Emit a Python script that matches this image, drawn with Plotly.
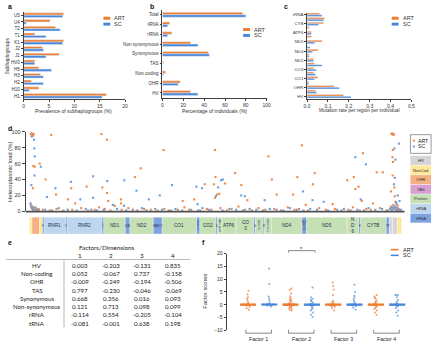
import plotly.graph_objects as go
import numpy as np

# ---------------- DATA ----------------
# Panel a
a_cats = ["U5", "U4", "T2", "T1", "K1", "J2", "J1", "HV0", "H5", "H3", "H2", "H10", "H1"]
a_art = [7.9, 5.2, 6.3, 2.2, 7.9, 3.7, 7.0, 2.2, 3.0, 3.3, 1.5, 3.0, 16.3]
a_sc = [7.7, 0.5, 7.2, 4.4, 7.7, 3.9, 4.4, 2.2, 5.5, 3.9, 3.9, 1.1, 15.5]
a_ticks = [0, 5, 10, 15, 20]

# Panel b
b_cats = ["Total", "tRNA", "rRNA", "Non synonymous", "Synonymous", "TAS", "Non coding", "OHR", "HV"]
b_art = [77, 7, 9, 27, 44, 1, 3, 17, 27]
b_sc = [80, 5, 5, 34, 45, 0, 1, 15, 34]
b_ticks = [0, 20, 40, 60, 80, 100]

# Panel c
c_cats = ["tRNA", "rRNA", "CYB", "ATP8", "ATP6", "ND6", "ND5", "ND4L", "ND4", "ND3", "ND2",
          "ND1", "CO3", "CO2", "CO1", "TAS", "OHR", "Non coding", "HV"]
c_art = [0.060, 0.083, 0.079, 0.010, 0.020, 0.020, 0.072, 0.000, 0.052, 0.010, 0.031,
         0.036, 0.031, 0.030, 0.052, 0.008, 0.130, 0.041, 0.175]
c_sc = [0.072, 0.080, 0.055, 0.000, 0.020, 0.000, 0.036, 0.014, 0.025, 0.010, 0.031,
        0.072, 0.044, 0.040, 0.036, 0.008, 0.154, 0.046, 0.210]
c_ticks = [0, 0.1, 0.2, 0.3, 0.4, 0.5]

# Panel d: heteroplasmic variants (position, load %)
d_art_pos = [60, 100, 130, 150, 185, 964, 3197, 3440, 5970, 8260, 16120, 16150, 16200, 16230, 16180, 16160, 16190,
             170, 230, 452, 715, 150, 1180, 1853, 2540, 3240, 4690, 4950, 7800, 8210, 8280, 8700, 9155, 9430,
             10640, 10790, 11010, 11740, 11930, 12130, 12620, 12700, 14150, 14440, 14850, 14510, 14650, 15460,
             15730, 16170, 16250, 16260,
             1710, 2030, 3450, 3500, 4070, 4070, 6820, 7330, 8260, 8350, 8450, 9700, 14800, 12300, 13500, 15300,
             16100, 16300,
             50, 80, 110, 140, 160, 200, 250, 300, 350, 420, 600, 900, 1200, 1500, 1900, 2300, 2600, 2900, 3100,
             3350, 3600, 3800, 4100, 4400, 4800, 5100, 5400, 5700, 6000, 6300, 6600, 6900, 7100, 7600, 7900,
             8100, 8500, 8800, 9000, 9300, 9600, 9900, 10200, 10500, 10900, 11200, 11500, 11800, 12000, 12400,
             12900, 13200, 13600, 13900, 14200, 14400, 14700, 15000, 15200, 15600, 15900, 16050, 16100, 16150,
             16200, 16250, 16300, 16350, 16400, 16450, 16500]
d_art_val = [97, 98, 96, 95, 97, 96, 97, 90, 77, 77, 97, 98, 96, 97, 77, 68, 62,
             57, 56, 60, 40, 29, 21, 29, 31, 30, 43, 54, 34, 34, 43, 35, 48, 33,
             69, 40, 21, 21, 43, 83, 34, 48, 39, 43, 73, 28, 31, 49,
             49, 45, 30, 19,
             15, 10, 23, 13, 10, 15, 13, 15, 17, 21, 22, 14, 13, 8, 9, 10,
             25, 12,
             8, 5, 3, 6, 2, 4, 1, 3, 2, 1, 2, 1, 3, 1, 2, 4, 1, 2, 5,
             3, 1, 7, 2, 4, 1, 3, 2, 1, 3, 1, 2, 5, 2, 1, 3,
             2, 4, 1, 3, 6, 2, 1, 4, 2, 3, 1, 5, 2, 3, 1,
             4, 2, 3, 1, 2, 5, 1, 3, 2, 4, 1, 3, 6, 2,
             8, 4, 5, 2, 7, 3, 1]
d_sc_pos = [90, 200, 210, 230, 500, 220, 80, 1153, 770, 1840, 2260, 2830, 2830, 3460, 3710, 4220, 4760, 4200,
            5310, 5800, 6340, 7430, 7680, 7480, 8530, 8610, 8300, 9430, 9590, 10470, 12180, 12600, 13100,
            14510, 14980, 14750, 16300, 16250, 16450, 16270, 16230, 16330, 16340, 16480, 8400, 16400,
            40, 70, 120, 180, 260, 320, 400, 700, 1000, 1300, 1700, 2100, 2500, 2750, 3000, 3300, 3900, 4300,
            4600, 5000, 5200, 5600, 5900, 6200, 6500, 6800, 7200, 7500, 7700, 8000, 8600, 8900, 9200, 9500,
            9800, 10100, 10400, 10700, 11000, 11300, 11600, 11900, 12200, 12500, 12800, 13300, 13700, 14000,
            14300, 14600, 14900, 15100, 15400, 15700, 15950, 16080, 16130, 16180, 16220, 16280, 16320, 16380,
            16420, 16550]
d_sc_val = [94, 90, 79, 69, 56, 45, 33, 29, 18, 37, 15, 44, 17, 38, 8, 39, 26, 7,
            15, 20, 33, 31, 29, 9, 39, 40, 19, 20, 19, 14, 25, 14, 12,
            68, 59, 15, 65, 79, 85, 42, 34, 11, 9, 13, 30, 20,
            10, 6, 4, 2, 5, 1, 3, 2, 1, 4, 2, 1, 3, 2, 1, 2, 3, 1,
            2, 4, 1, 3, 2, 1, 3, 1, 2, 1, 4, 2, 1, 3, 2, 1,
            3, 2, 1, 3, 2, 1, 4, 2, 1, 3, 2, 1, 2, 3,
            1, 2, 1, 4, 2, 3, 1, 4, 2, 5, 3, 6, 2, 4,
            1, 2]
d_ticks = [0, 20, 40, 60, 80, 100]

# mtDNA gene map (start, end, label, type)
g_start = [1, 110, 441, 577, 648, 1602, 1671, 3230, 3307, 4263, 4470, 5512, 5904, 7446, 7586, 8295, 8366,
           8573, 9207, 9991, 10059, 10405, 10470, 10767, 12138, 12337, 14149, 14674, 14747, 15888, 16024,
           16157, 16172, 16383]
g_end = [110, 441, 577, 648, 1602, 1671, 3230, 3307, 4263, 4470, 5512, 5904, 7446, 7586, 8295, 8366, 8573,
         9207, 9991, 10059, 10405, 10470, 10767, 12138, 12337, 14149, 14674, 14747, 15888, 16024, 16157,
         16172, 16383, 16569]
g_label = ["", "", "", "F", "RNR1", "V", "RNR2", "L<br>1", "ND1", "IQM", "ND2", "WANCY", "CO1", "S<br>D<br>1",
           "CO2", "K", "A<br>T<br>P<br>8", "ATP6", "CO<br>3", "G", "N<br>D<br>3", "R", "N<br>D<br>4<br>L", "ND4",
           "H S<br>S2<br>L2", "ND5", "N<br>D<br>6", "E", "CYTB", "TP", "", "", "", ""]
g_type = ["NonCod", "OHR", "NonCod", "tRNA", "rRNA", "tRNA", "rRNA", "tRNA", "Protein", "tRNA", "Protein",
          "tRNA", "Protein", "tRNA", "Protein", "tRNA", "Protein", "Protein", "Protein", "tRNA", "Protein",
          "tRNA", "Protein", "Protein", "tRNA", "Protein", "Protein", "tRNA", "Protein", "tRNA", "HV", "TAS",
          "HV", "NonCod"]
region_names = ["HV", "NonCod", "OHR", "TAS", "Protein", "rRNA", "tRNA"]

# Panel e: factor loadings
e_rows = ["HV", "Non-coding", "OHR", "TAS", "Synonymous", "Non-synonymous", "rRNA", "tRNA"]
e_cols = ["1", "2", "3", "4"]
e_vals = [["0.003", "-0.203", "-0.131", "0.835"],
          ["0.052", "-0.067", "0.737", "-0.158"],
          ["-0.009", "-0.249", "-0.194", "-0.506"],
          ["0.797", "-0.230", "-0.046", "-0.069"],
          ["0.668", "0.356", "0.016", "0.093"],
          ["0.121", "0.713", "0.098", "0.099"],
          ["-0.114", "0.554", "-0.205", "-0.104"],
          ["-0.081", "-0.001", "0.638", "0.198"]]

# Panel f: factor scores
f_factors = ["Factor 1", "Factor 2", "Factor 3", "Factor 4"]
near0 = [0.0, 0.1, -0.1, 0.2, -0.2, 0.0, 0.3, -0.3, 0.1, -0.1, 0.0, 0.2, -0.2, 0.1, 0.0, -0.1, 0.05, -0.05]
f_art = [
    [5.5, 4.0, 2.9, 2.3, 1.5, 0.9, -0.8, -1.4, -2.0] + near0,
    [6.3, 5.8, 4.4, 3.2, 2.7, 2.1, 1.5, 1.2, 0.7, 0.5, -0.5, -0.8, -1.0, -1.4, -2.0, -2.3, 1.8, -1.7] + near0 + near0,
    [8.7, 7.3, 5.8, 3.8, 1.5, 0.7, -0.8, -1.4, -2.3, 1.0, -0.6] + near0,
    [3.8, 3.2, 2.3, 1.5, 0.7, -0.8, -1.6, -2.3, -3.1, -3.9, 2.7, 1.1, -1.2] + near0,
]
f_sc = [
    [14.2, 8.1, 3.2, 2.3, 1.5, 0.7, -0.8, 0.4] + near0,
    [6.7, 2.9, 2.3, 1.8, 1.2, -0.8, -1.4, -2.3, -3.1, -3.9, -4.8, 0.8, -0.5, 1.5, -1.8] + near0,
    [7.8, 5.0, 3.5, 2.9, 2.1, 0.9, -1.2, -2.0, 1.4, -0.6] + near0,
    [3.8, 3.8, 3.8, 3.8, 2.9, 1.8, 0.7, -0.8, -1.4, -2.3, -3.1, -4.3, 1.2, -0.5] + near0,
]
f_ticks = [-10, -5, 0, 5, 10, 15, 20]

# ---------------- STYLE ----------------
W, H = 440, 346
ART_C = "#ED7D31"
SC_C = "#4A86D8"
ART_PT = "#F0884A"
SC_PT = "#6A9FDC"
AX = "#404040"
FONT = "Liberation Sans, Arial, sans-serif"
TF = "Lato, Noto Sans, sans-serif"
region_colors = {"HV": "#D6D4D4", "NonCod": "#FFE699", "OHR": "#F4B183", "TAS": "#D9A0D2",
                 "Protein": "#C5E0B4", "rRNA": "#BDD7EE", "tRNA": "#7DA2E0"}


def px(x):
    return x / W


def py(y):
    return 1 - y / H


fig = go.Figure()
shapes = []
ann = []


def A(x, y, text, size, xref="paper", color="#333", family=FONT, xanchor="center", **kw):
    ann.append(dict(x=x, y=y, xref=xref, yref="paper", text=text, showarrow=False,
                    xanchor=xanchor, yanchor="middle",
                    font=dict(size=size, color=color, family=family), **kw))


def axstyle(**kw):
    d = dict(showline=True, linecolor=AX, linewidth=0.8, ticks="outside", ticklen=2, tickwidth=0.7,
             tickcolor=AX, tickfont=dict(size=5, color="#333", family=FONT), showgrid=False,
             zeroline=False, fixedrange=True)
    d.update(kw)
    return d


def hbars(cats, art, sc, xa, ya, w):
    fig.add_trace(go.Bar(y=cats, x=art, orientation="h", marker_color=ART_C, width=w, offset=-w,
                         xaxis=xa, yaxis=ya, showlegend=False))
    fig.add_trace(go.Bar(y=cats, x=sc, orientation="h", marker_color=SC_C, width=w, offset=0,
                         xaxis=xa, yaxis=ya, showlegend=False))


def mini_legend(x, y, dy=6.0):
    for i, (name, col) in enumerate([("ART", ART_C), ("SC", SC_C)]):
        yy = y + i * dy
        shapes.append(dict(type="rect", xref="paper", yref="paper", x0=px(x), x1=px(x + 7),
                           y0=py(yy + 1.5), y1=py(yy - 1.5), fillcolor=col, line=dict(width=0)))
        A(px(x + 9), py(yy), name, 5.5, xanchor="left")


# ---- Panel a ----
hbars(a_cats, a_art, a_sc, "x", "y", 0.35)
fig.update_layout(
    xaxis=axstyle(domain=[px(21), px(124)], range=[0, 20], tickvals=a_ticks, anchor="y"),
    yaxis=axstyle(domain=[py(98), py(9)], autorange="reversed", anchor="x", type="category",
                  tickfont=dict(size=4.6, color="#333", family=FONT)),
)
A(px(72), py(109.5), "Prevalence of subhaplogroups (%)", 5)
A(px(4.5), py(54), "Subhaplogroups", 5, textangle=-90)
mini_legend(102, 15.5)

# ---- Panel b ----
hbars(b_cats, b_art, b_sc, "x2", "y2", 0.25)
fig.update_layout(
    xaxis2=axstyle(domain=[px(162), px(268)], range=[0, 100], tickvals=b_ticks, anchor="y2"),
    yaxis2=axstyle(domain=[py(96.5), py(7)], autorange="reversed", anchor="x2", type="category",
                   tickfont=dict(size=4.6, color="#333", family=FONT)),
)
A(px(215), py(109.5), "Percentage of individuals (%)", 5)
mini_legend(244, 27)

# ---- Panel c ----
hbars(c_cats, c_art, c_sc, "x3", "y3", 0.38)
fig.update_layout(
    xaxis3=axstyle(domain=[px(309), px(415)], range=[0, 0.5], tickvals=c_ticks, anchor="y3",
                   tickformat=".1f"),
    yaxis3=axstyle(domain=[py(97.3), py(9.7)], autorange="reversed", anchor="x3", type="category",
                   tickfont=dict(size=4.3, color="#333", family=FONT)),
)
A(px(362), py(109.5), "Mutation rate per region per individual", 4.8)
mini_legend(395, 15.5)

# ---- Panel d ----
fig.add_trace(go.Scatter(x=d_art_pos, y=d_art_val, mode="markers", xaxis="x4", yaxis="y4",
                         marker=dict(symbol="square", size=2.1, color=ART_PT), cliponaxis=False,
                         showlegend=False))
fig.add_trace(go.Scatter(x=d_sc_pos, y=d_sc_val, mode="markers", xaxis="x4", yaxis="y4",
                         marker=dict(symbol="square", size=2.1, color=SC_PT), cliponaxis=False,
                         showlegend=False))
gx0, gx1 = 27, 405
scale = (gx1 - gx0) / 16569
fig.update_layout(
    xaxis4=dict(domain=[px(23), px(408)], range=[-4 / scale, 16569 + 3 / scale], anchor="y4",
                showline=False, showticklabels=False, ticks="", showgrid=False, zeroline=False),
    yaxis4=axstyle(domain=[py(212), py(131)], range=[0, 100], tickvals=d_ticks, anchor="x4",
                   tickfont=dict(size=5.5, color="#333", family=FONT), ticklen=3),
)
shapes.append(dict(type="line", xref="paper", yref="paper", x0=px(23), x1=px(408), y0=py(212.3),
                   y1=py(212.3), line=dict(color="#505050", width=1.8)))
A(px(7), py(172), "Heteroplasmic load (%)", 5.8, textangle=-90)
# gene map
for s, e, lab, t in zip(g_start, g_end, g_label, g_type):
    shapes.append(dict(type="rect", xref="x4", yref="paper", x0=s, x1=e, y0=py(235), y1=py(218),
                       fillcolor=region_colors[t], line=dict(width=0.3, color="#ffffff")))
    if lab:
        small = (e - s) < 400
        A((s + e) / 2, py(226.5), lab, 2.6 if small else 4.6, xref="x4", color="#1f2d4d")
# legend box ART / SC
shapes.append(dict(type="rect", xref="paper", yref="paper", x0=px(414), x1=px(435), y0=py(153),
                   y1=py(134), line=dict(color="#555", width=0.6), fillcolor="white"))
for i, (name, col) in enumerate([("ART", ART_PT), ("SC", SC_PT)]):
    yy = 140 + i * 6
    shapes.append(dict(type="rect", xref="paper", yref="paper", x0=px(416.5), x1=px(418.5),
                       y0=py(yy + 1), y1=py(yy - 1), fillcolor=col, line=dict(width=0)))
    A(px(420), py(yy), name, 5.2, color="#222", xanchor="left")
# region legend
for i, nm in enumerate(region_names):
    y0 = 155.5 + i * 9.8
    shapes.append(dict(type="rect", xref="paper", yref="paper", x0=px(414), x1=px(435), y0=py(y0 + 9.3),
                       y1=py(y0), fillcolor=region_colors[nm], line=dict(width=0)))
    A(px(424.5), py(y0 + 4.7), nm, 4.2)

# ---- Panel e (table) ----
A(px(105), py(249), "Factors/Dimensions", 6.3, color="#222", family=TF)
col_x = [78, 109.5, 141.5, 173]
for cx, c in zip(col_x, e_cols):
    A(px(cx), py(257), c, 6.3, color="#222", family=TF)
shapes.append(dict(type="line", xref="paper", yref="paper", x0=px(3), x1=px(190), y0=py(261), y1=py(261),
                   line=dict(color="#888", width=0.6)))
shapes.append(dict(type="line", xref="paper", yref="paper", x0=px(62), x1=px(62), y0=py(262), y1=py(330),
                   line=dict(color="#888", width=0.6)))
for i, (r, vals) in enumerate(zip(e_rows, e_vals)):
    yy = 267 + i * 8.4
    A(px(35), py(yy), r, 6.1, color="#222", family=TF)
    for cx, v in zip(col_x, vals):
        A(px(cx), py(yy), v, 6.1, color="#222", family=TF)

# ---- Panel f ----
for k in range(4):
    for j, (vals, col) in enumerate([(f_art[k], ART_PT), (f_sc[k], SC_PT)]):
        pos = 1 + 2 * k + j
        fig.add_trace(go.Box(y=vals, x=[pos] * len(vals), boxpoints="all", jitter=0.9, pointpos=0,
                             width=0.8, fillcolor="rgba(0,0,0,0)", line=dict(width=0, color="rgba(0,0,0,0)"),
                             marker=dict(size=2, color=col, opacity=0.85), xaxis="x5", yaxis="y5",
                             showlegend=False, hoverinfo="skip"))
        med = float(np.median(vals))
        linecol = ART_C if j == 0 else SC_C
        fig.add_trace(go.Scatter(x=[pos - 0.38, pos + 0.38], y=[med, med], mode="lines",
                                 line=dict(color=linecol, width=2.2), xaxis="x5", yaxis="y5",
                                 showlegend=False, hoverinfo="skip"))
fig.update_layout(
    xaxis5=dict(domain=[px(227.3), px(420)], range=[0, 8.9], anchor="y5", showline=False,
                showticklabels=False, ticks="", showgrid=False, zeroline=False),
    yaxis5=axstyle(domain=[py(333), py(255)], range=[-10, 20], tickvals=f_ticks, anchor="x5",
                   tickfont=dict(size=5.2, color="#333", family=FONT)),
)
A(px(205), py(293), "Factor scores", 5.8, textangle=-90)
for k, name in enumerate(f_factors):
    c = 1.5 + 2 * k
    x0, x1 = c - 0.6, c + 0.6
    for (a0, a1, b0, b1) in [(x0, x1, 336, 336), (x0, x0, 332.5, 336), (x1, x1, 332.5, 336)]:
        shapes.append(dict(type="line", xref="x5", yref="paper", x0=a0, x1=a1, y0=py(b0), y1=py(b1),
                           line=dict(color="#555", width=0.7)))
    A(c, py(342), name, 5.2, xref="x5", color="#222")
# significance bracket
for (a0, a1, b0, b1) in [(2.9, 4.15, 252, 252), (2.9, 2.9, 252, 254), (4.15, 4.15, 252, 254)]:
    shapes.append(dict(type="line", xref="x5", yref="paper", x0=a0, x1=a1, y0=py(b0), y1=py(b1),
                       line=dict(color="#555", width=0.7)))
A(3.5, py(250.5), "*", 6, xref="x5", color="#222")
# f legend
for i, (name, col) in enumerate([("ART", ART_C), ("SC", SC_C)]):
    yy = 251 + i * 5.8
    shapes.append(dict(type="line", xref="paper", yref="paper", x0=px(394), x1=px(402), y0=py(yy), y1=py(yy),
                       line=dict(color=col, width=1.6)))
    A(px(404), py(yy), name, 5.5, color="#222", xanchor="left")

# panel letters
for lab, x, y in [("a", 3, 4), ("b", 147, 4), ("c", 284, 4), ("d", 3, 128), ("e", 3, 244), ("f", 200, 244)]:
    A(px(x), py(y), "<b>%s</b>" % lab, 7, color="#111", xanchor="left")

fig.update_layout(width=W, height=H, margin=dict(l=0, r=0, t=0, b=0), paper_bgcolor="white",
                  plot_bgcolor="white", barmode="overlay", shapes=shapes, annotations=ann,
                  font=dict(family=FONT), showlegend=False)
fig.write_html("out.html", config={"displayModeBar": False},
               post_script="document.body.style.margin='0';document.body.style.padding='0';")
